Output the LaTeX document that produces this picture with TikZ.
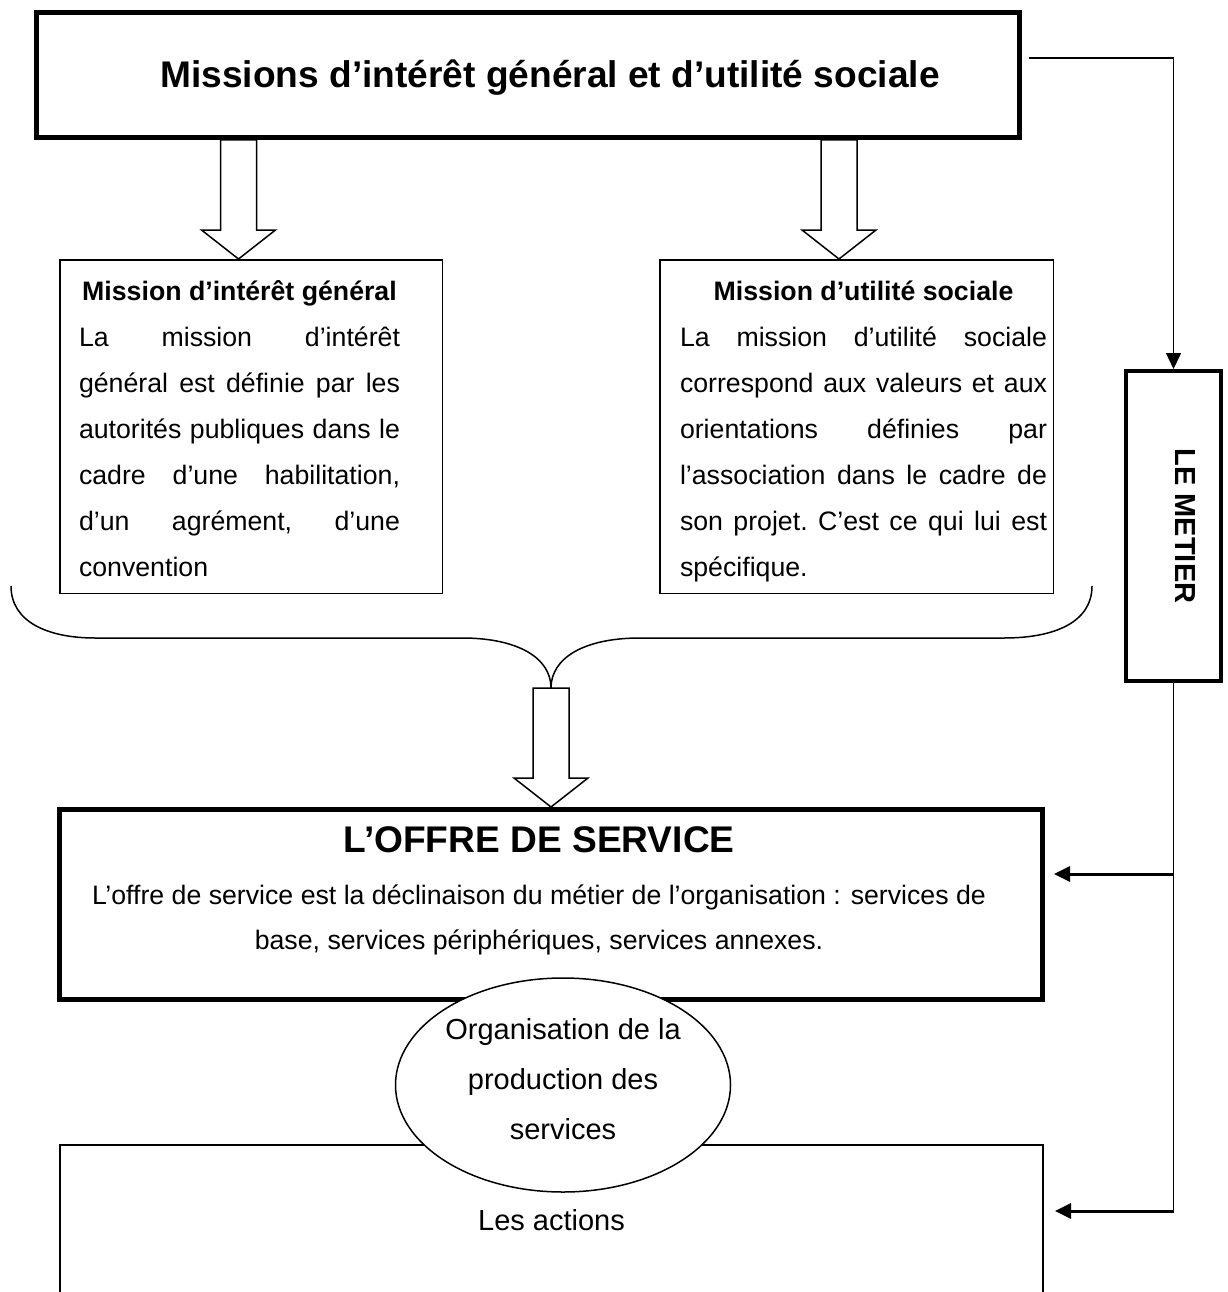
\documentclass[tikz,border=0pt]{standalone}
\usepackage{fontspec}
\setmainfont{Liberation Sans}
\usepackage{graphicx}
\usetikzlibrary{shapes.geometric,calc,arrows.meta}
\setlength{\parindent}{0pt}
\newcommand{\bodysize}{\fontsize{26.7}{46}\selectfont}
\newcommand{\labelsize}{\fontsize{29}{50}\selectfont}
\newcommand{\boxtext}{\bodysize\tolerance=10000 \hyphenpenalty=10000 \frenchspacing}
\newcommand{\bigtitle}{\fontsize{37.1}{44}\selectfont\bfseries}
\newcommand{\hollowarrow}[2]{\draw[blockarrow] ($(#1)+(-18,0)$) -- ($(#2)+(-18,-29)$) -- ($(#2)+(-37,-29)$) -- (#2) -- ($(#2)+(37,-29)$) -- ($(#2)+(18,-29)$) -- ($(#1)+(18,0)$) -- cycle;}

\begin{document}
\begin{tikzpicture}[x=1pt, y=-1pt, thickbox/.style={draw,line width=5pt,inner sep=0pt}, thinbox/.style={draw,line width=1.5pt,inner sep=0pt}, missiontext/.style={inner sep=0pt,align=justify,font=\boxtext}, blockarrow/.style={line width=1.5pt,line join=miter}, wire/.style={line width=1.5pt}, feed/.style={line width=3pt,-{Triangle[length=16pt,width=15pt]}}]
          \useasboundingbox (0,0) rectangle (1227,1292);
          \clip (0,0) rectangle (1227,1292);
          \node[thickbox,minimum width=983pt,minimum height=125pt] (top) at (528,75) {};
          \node[anchor=base,font=\bigtitle] (toptitle) at (550,88) {Missions d’intérêt général et d’utilité sociale};
          \node[thinbox,minimum width=382.5pt,minimum height=333.5pt] (left) at (251,426.5) {};
          \node[missiontext,text width=321pt] (lefttext) at (239.5,428.5) {{\centering\bfseries Mission d’intérêt général\par}La mission d’intérêt\linebreak général est définie par les\linebreak autorités publiques dans le\linebreak cadre d’une habilitation,\linebreak d’un agrément, d’une\linebreak convention};
          \node[thinbox,minimum width=393.5pt,minimum height=333.5pt] (right) at (856.5,426.5) {};
          \node[missiontext,text width=367pt] (righttext) at (863.5,431.5) {{\centering\bfseries Mission d’utilité sociale\par}La mission d’utilité sociale\linebreak correspond aux valeurs et aux\linebreak orientations définies par\linebreak l’association dans le cadre de\linebreak son projet. C’est ce qui lui est\linebreak spécifique.};
          \node[draw,line width=4pt,inner sep=0pt,minimum width=95pt,minimum height=310pt,font=\labelsize\bfseries] (metier) at (1173.5,526) {\hspace*{24pt}\rotatebox{-90}{LE METIER}};
          \node[thickbox,minimum width=983pt,minimum height=190pt] (offre) at (551,904.5) {};
          \node[anchor=north,inner sep=0pt,text width=960pt] (offretext) at (539,826) {\centering\spaceskip=0pt \xspaceskip=0pt {\bigtitle L’OFFRE DE SERVICE\par}\vspace{7pt}{\fontsize{26.7}{45}\selectfont L’offre de service est la déclinaison du métier de l’organisation : services de\\ base, services périphériques, services annexes.\par}};
          \node[draw,line width=2pt,inner sep=0pt,minimum width=983pt,minimum height=255pt] (act) at (551.5,1272.5) {};
          \node[anchor=base,font=\labelsize] (acttext) at (551.5,1230) {Les actions};
          \coordinate (colL) at (238.5,0);
          \coordinate (colR) at (839,0);
          \coordinate (tailL) at (top.south -| colL);
          \coordinate (tipL) at (left.north -| colL);
          \coordinate (tailR) at (top.south -| colR);
          \coordinate (tipR) at (right.north -| colR);
          \hollowarrow{tailL}{tipL}
          \hollowarrow{tailR}{tipR}
          \coordinate (bracetip) at (551,688);
          \coordinate (tipO) at (offre.north -| bracetip);
          \draw[wire] (11,586) .. controls (11,622) and (48,638) .. (95,638) -- (462,638) .. controls (518,638) and (551,658) .. (bracetip) .. controls (551,658) and (584,638) .. (640,638) -- (1004,638) .. controls (1055,638) and (1092,622) .. (1092,586);
          \hollowarrow{bracetip}{tipO}
          \draw[wire,-{Triangle[length=16pt,width=15pt]}] ([shift={(7,-17)}]top.east) -| (metier.north);
          \coordinate (jOffre) at (1173.5,874);
          \coordinate (jAct) at (1173.5,1211);
          \draw[wire] (metier.south) -- (jAct);
          \draw[feed,shorten >=9pt] (jOffre) -- (jOffre -| offre.east);
          \draw[feed,shorten >=11pt] (jAct) -- (jAct -| act.east);
          \node[ellipse,draw,line width=1.5pt,fill=white,inner sep=0pt,minimum width=335pt,minimum height=214pt,align=center,font=\labelsize] (prod) at (563,1085) {Organisation de la\\production des\\services\rule[-12pt]{0pt}{0pt}};
  \end{tikzpicture}
\end{document}
